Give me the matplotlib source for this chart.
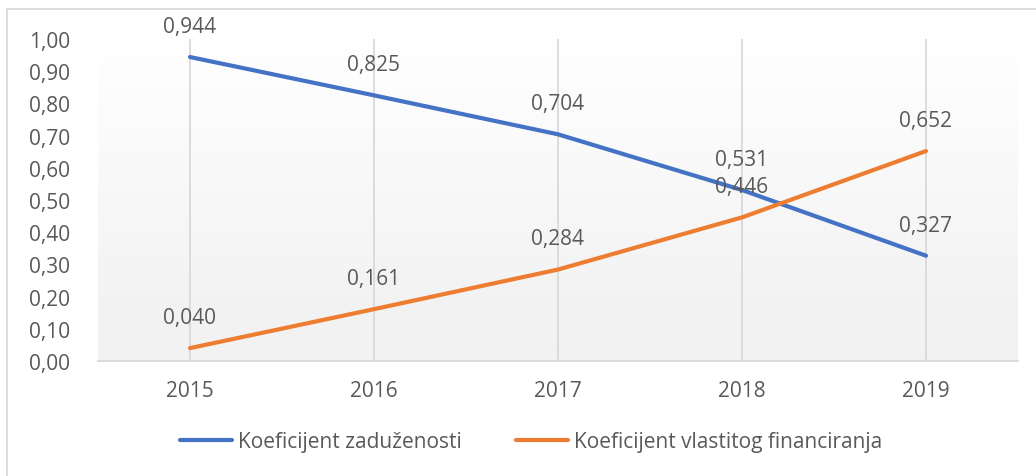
import numpy as np
import matplotlib.pyplot as plt
from matplotlib.lines import Line2D

# data
years = ['2015', '2016', '2017', '2018', '2019']
zaduzenost = [0.944, 0.825, 0.704, 0.531, 0.327]
vlastito = [0.040, 0.161, 0.284, 0.446, 0.652]
yticks = [0.0, 0.1, 0.2, 0.3, 0.4, 0.5, 0.6, 0.7, 0.8, 0.9, 1.0]

plt.rcParams['font.family'] = ['Open Sans', 'DejaVu Sans']
txtcol = '#595959'
blue = '#4472C4'
orange = '#ED7D31'
fs = 15

fig = plt.figure(figsize=(10.36, 4.77), dpi=100)
ax = fig.add_axes([98/1036, 1 - 362/477, 920/1036, 322/477])

x = np.arange(len(years))
ax.set_xlim(-0.5, len(years) - 0.5)
ax.set_ylim(0, 1.0)

# gradient background of the plot area
grad = np.linspace(0, 1, 256).reshape(-1, 1)
cols = np.ones((256, 1, 3))
shade = np.clip((1 - grad) * 1.15, 0, 1) * (1 - 0xf2 / 255)
cols = cols - shade[..., None]
ax.imshow(cols, extent=(-0.5, len(years) - 0.5, 0, 1.0), aspect='auto',
          origin='lower', zorder=0)

# vertical gridlines at categories
for xi in x:
    ax.axvline(xi, color='#d9d9d9', lw=1.3, zorder=1)

ax.plot(x, zaduzenost, color=blue, lw=3, solid_capstyle='round', zorder=3)
ax.plot(x, vlastito, color=orange, lw=3, solid_capstyle='round', zorder=3)

for series in (zaduzenost, vlastito):
    for xi, v in zip(x, series):
        ax.annotate(f'{v:.3f}'.replace('.', ','), (xi, v), xytext=(0, 22),
                    textcoords='offset points', ha='center', va='center',
                    fontsize=fs, color=txtcol, zorder=4)

ax.set_xticks(x)
ax.set_xticklabels(years)
ax.set_yticks(yticks)
ax.set_yticklabels([f'{t:.2f}'.replace('.', ',') for t in yticks])
ax.tick_params(axis='both', length=0, labelsize=fs, labelcolor=txtcol)
ax.tick_params(axis='x', pad=14)
ax.tick_params(axis='y', pad=20)

for s in ['top', 'right', 'left']:
    ax.spines[s].set_visible(False)
ax.spines['bottom'].set_color('#d9d9d9')
ax.spines['bottom'].set_linewidth(1.3)

# legend
handles = [Line2D([], [], color=blue, lw=3, solid_capstyle='round'),
           Line2D([], [], color=orange, lw=3, solid_capstyle='round')]
fig.legend(handles, ['Koeficijent zaduženosti', 'Koeficijent vlastitog financiranja'],
           loc='center', bbox_to_anchor=(531/1036, 1 - 443/477), ncol=2, frameon=False,
           fontsize=fs, labelcolor=txtcol, handlelength=2.5, handletextpad=0.3,
           columnspacing=2.6)

# outer chart border (top and left)
fig.add_artist(Line2D([7/1036, 1], [1 - 10/477, 1 - 10/477], color='#d9d9d9', lw=1.3))
fig.add_artist(Line2D([7/1036, 7/1036], [0, 1 - 10/477], color='#d9d9d9', lw=1.3))

fig.savefig('out.png', dpi=100, facecolor='white')
